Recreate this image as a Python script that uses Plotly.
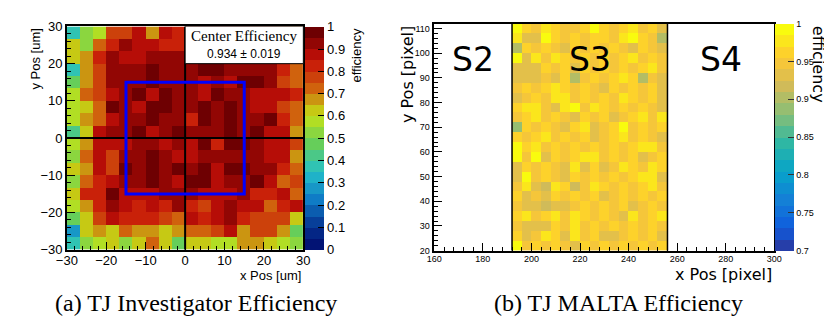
import numpy as np
import plotly.graph_objects as go

W, H = 832, 327

# ---------------- panel (a): TJ Investigator (rows listed top y=30 -> bottom y=-30) -------------
a_x_edges = np.linspace(-30, 30, 19)
a_y_edges = np.linspace(-30, 30, 19)
a_eff_top_to_bottom = [
    [0.37, 0.52, 0.58, 0.77, 0.77, 0.87, 0.68, 0.85, 0.80, 0.82, 0.85, 0.88, 0.88, 0.85, 0.82, 0.80, 0.78, 0.72],
    [0.60, 0.52, 0.72, 0.82, 0.92, 0.87, 0.87, 0.83, 0.83, 0.90, 0.92, 0.92, 0.90, 0.90, 0.88, 0.85, 0.82, 0.75],
    [0.60, 0.68, 0.82, 0.92, 0.87, 0.87, 0.92, 0.92, 0.92, 0.92, 0.95, 0.92, 0.92, 0.92, 0.90, 0.88, 0.82, 0.75],
    [0.37, 0.68, 0.78, 0.92, 0.92, 0.92, 0.97, 0.92, 0.92, 0.92, 0.97, 0.97, 0.92, 0.92, 0.92, 0.92, 0.82, 0.73],
    [0.47, 0.68, 0.78, 0.92, 0.92, 0.92, 0.96, 0.92, 0.92, 0.92, 0.87, 0.92, 0.87, 0.97, 0.97, 0.92, 0.78, 0.73],
    [0.55, 0.72, 0.78, 0.87, 0.92, 0.97, 0.87, 0.97, 0.92, 0.92, 0.87, 0.97, 0.92, 0.92, 0.87, 0.87, 0.87, 0.82],
    [0.58, 0.63, 0.72, 0.97, 0.92, 0.87, 0.97, 0.97, 0.92, 0.92, 0.97, 0.92, 0.97, 0.92, 0.87, 0.87, 0.78, 0.73],
    [0.55, 0.68, 0.73, 0.87, 0.92, 0.92, 0.97, 0.92, 0.92, 0.82, 0.97, 0.92, 0.97, 0.92, 0.92, 0.97, 0.82, 0.73],
    [0.42, 0.62, 0.87, 0.92, 0.92, 0.97, 0.87, 0.92, 0.97, 0.92, 0.92, 0.92, 0.97, 0.92, 0.97, 0.87, 0.87, 0.68],
    [0.58, 0.68, 0.87, 0.87, 0.87, 0.92, 0.92, 0.87, 0.92, 0.87, 0.97, 0.80, 0.97, 0.97, 0.92, 0.87, 0.87, 0.78],
    [0.52, 0.73, 0.87, 0.78, 0.92, 0.92, 0.96, 0.92, 0.87, 0.87, 0.92, 0.92, 0.92, 0.92, 0.92, 0.87, 0.87, 0.68],
    [0.60, 0.68, 0.87, 0.78, 0.97, 0.92, 0.97, 0.92, 0.97, 0.92, 0.97, 0.87, 0.97, 0.97, 0.92, 0.92, 0.82, 0.73],
    [0.52, 0.73, 0.82, 0.87, 0.92, 0.92, 0.97, 0.92, 0.87, 0.97, 0.97, 0.87, 0.92, 0.92, 0.97, 0.87, 0.73, 0.78],
    [0.63, 0.82, 0.82, 0.97, 0.87, 0.87, 0.87, 0.92, 0.92, 0.92, 0.87, 0.87, 0.87, 0.92, 0.82, 0.82, 0.87, 0.73],
    [0.58, 0.68, 0.82, 0.92, 0.87, 0.82, 0.87, 0.82, 0.92, 0.82, 0.78, 0.87, 0.92, 0.87, 0.87, 0.73, 0.82, 0.87],
    [0.45, 0.60, 0.75, 0.87, 0.82, 0.82, 0.82, 0.78, 0.73, 0.87, 0.82, 0.87, 0.92, 0.82, 0.78, 0.78, 0.78, 0.63],
    [0.27, 0.60, 0.68, 0.63, 0.73, 0.68, 0.68, 0.60, 0.68, 0.73, 0.73, 0.78, 0.87, 0.68, 0.78, 0.78, 0.68, 0.45],
    [0.37, 0.52, 0.55, 0.60, 0.52, 0.63, 0.73, 0.60, 0.45, 0.63, 0.60, 0.55, 0.55, 0.68, 0.68, 0.60, 0.55, 0.52],
]
a_center_text = "0.934 ± 0.019"
a_tickvals = [0, 0.1, 0.2, 0.3, 0.4, 0.5, 0.6, 0.7, 0.8, 0.9, 1.0]
a_ticktext = ["0", "0.1", "0.2", "0.3", "0.4", "0.5", "0.6", "0.7", "0.8", "0.9", "1"]

# ---------------- panel (b): TJ MALTA, sector S3 (rows listed top y=112 -> bottom y=20) ---------
b_x_edges = np.arange(192, 257, 4)
b_y_edges = np.arange(20, 113, 4)
b_eff_top_to_bottom = [
    [0.990, 0.962, 0.950, 0.977, 0.962, 0.950, 0.945, 0.962, 0.990, 0.962, 0.945, 0.962, 0.977, 0.950, 0.962, 0.932],
    [0.977, 0.932, 0.932, 0.990, 0.962, 0.950, 0.962, 0.950, 0.962, 0.962, 0.950, 0.977, 0.990, 0.962, 0.950, 0.900],
    [0.900, 0.962, 0.950, 0.962, 0.950, 0.932, 0.962, 0.950, 0.962, 0.950, 0.962, 0.950, 0.932, 0.962, 0.950, 0.932],
    [0.990, 0.932, 0.977, 0.950, 0.977, 0.962, 0.950, 0.962, 0.950, 0.962, 0.950, 0.962, 0.977, 0.950, 0.962, 0.945],
    [0.932, 0.932, 0.932, 0.962, 0.950, 0.962, 0.932, 0.962, 0.950, 0.962, 0.950, 0.962, 0.950, 0.962, 0.977, 0.950],
    [0.932, 0.932, 0.932, 0.950, 0.932, 0.962, 0.900, 0.950, 0.962, 0.950, 0.962, 0.977, 0.962, 0.900, 0.950, 0.932],
    [0.950, 0.962, 0.950, 0.962, 0.977, 0.962, 0.950, 0.962, 0.950, 0.932, 0.962, 0.950, 0.962, 0.950, 0.962, 0.932],
    [0.932, 0.950, 0.962, 0.950, 0.977, 0.977, 0.950, 0.962, 0.950, 0.962, 0.950, 0.977, 0.962, 0.950, 0.962, 0.932],
    [0.962, 0.977, 0.977, 0.950, 0.932, 0.977, 0.990, 0.950, 0.977, 0.962, 0.950, 0.962, 0.950, 0.962, 0.950, 0.932],
    [0.950, 0.962, 0.977, 0.950, 0.962, 0.950, 0.932, 0.962, 0.950, 0.962, 0.932, 0.950, 0.962, 0.977, 0.950, 0.977],
    [0.886, 0.962, 0.950, 0.962, 0.950, 0.932, 0.962, 0.977, 0.932, 0.950, 0.962, 0.990, 0.950, 0.962, 0.950, 0.962],
    [0.962, 0.950, 0.962, 0.977, 0.950, 0.962, 0.950, 0.962, 0.932, 0.950, 0.962, 0.977, 0.950, 0.962, 0.950, 0.932],
    [0.990, 0.962, 0.977, 0.950, 0.962, 0.950, 0.962, 0.950, 0.962, 0.950, 0.962, 0.950, 0.962, 0.977, 0.977, 0.950],
    [0.990, 0.950, 0.990, 0.932, 0.962, 0.950, 0.962, 0.977, 0.977, 0.950, 0.962, 0.950, 0.962, 0.932, 0.950, 0.962],
    [0.932, 0.962, 0.950, 0.962, 0.950, 0.932, 0.977, 0.932, 0.962, 0.932, 0.950, 0.977, 0.962, 0.950, 0.977, 0.962],
    [0.932, 0.990, 0.950, 0.962, 0.950, 0.932, 0.962, 0.950, 0.962, 0.950, 0.962, 0.950, 0.962, 0.977, 0.977, 0.932],
    [0.950, 0.977, 0.932, 0.918, 0.977, 0.962, 0.918, 0.950, 0.977, 0.962, 0.950, 0.962, 0.950, 0.962, 0.977, 0.950],
    [0.962, 0.932, 0.950, 0.932, 0.962, 0.950, 0.962, 0.950, 0.962, 0.932, 0.950, 0.962, 0.950, 0.962, 0.950, 0.962],
    [0.950, 0.932, 0.932, 0.918, 0.932, 0.932, 0.950, 0.962, 0.950, 0.962, 0.950, 0.962, 0.932, 0.950, 0.962, 0.950],
    [0.962, 0.977, 0.950, 0.962, 0.977, 0.950, 0.977, 0.962, 0.950, 0.962, 0.950, 0.932, 0.977, 0.950, 0.962, 0.977],
    [0.950, 0.932, 0.932, 0.932, 0.962, 0.950, 0.977, 0.950, 0.962, 0.950, 0.962, 0.950, 0.962, 0.950, 0.962, 0.950],
    [0.962, 0.932, 0.950, 0.977, 0.962, 0.932, 0.977, 0.950, 0.962, 0.932, 0.932, 0.950, 0.962, 0.950, 0.962, 0.932],
    [0.990, 0.950, 0.962, 0.950, 0.962, 0.950, 0.932, 0.962, 0.950, 0.962, 0.950, 0.962, 0.950, 0.962, 0.950, 0.962],
]
b_sector_labels = ["S2", "S3", "S4"]
b_sector_x = [176, 224, 278]
b_tickvals = [0.7, 0.75, 0.8, 0.85, 0.9, 0.95, 1.0]
b_ticktext = ["0.7", "0.75", "0.8", "0.85", "0.9", "0.95", "1"]

captions = ["(a) TJ Investigator Efficiency", "(b) TJ MALTA Efficiency"]

# ---------------- ROOT palettes (20 contour levels) ----------------
STOPS = [0.0, 0.125, 0.25, 0.375, 0.5, 0.625, 0.75, 0.875, 1.0]
RAINBOW = ([0, 5, 15, 35, 102, 196, 208, 199, 110],
           [0, 48, 124, 192, 206, 226, 97, 16, 0],
           [99, 142, 198, 201, 90, 22, 13, 8, 2])
BIRD = ([0.2082, 0.0592, 0.0780, 0.0232, 0.1802, 0.5301, 0.8186, 0.9956, 0.9764],
        [0.1664, 0.3599, 0.5041, 0.6419, 0.7178, 0.7492, 0.7328, 0.7862, 0.9832],
        [0.5293, 0.8684, 0.8385, 0.7914, 0.6425, 0.4662, 0.3499, 0.1968, 0.0539])


def stepped(pal, scale, n=20):
    cs = []
    for i in range(n):
        f = min((i + 0.99) / n, 1.0)
        rgb = [int(round(np.interp(f, STOPS, c) * scale)) for c in pal]
        col = "rgb(%d,%d,%d)" % tuple(rgb)
        cs.append([i / n, col])
        cs.append([(i + 1) / n, col])
    return cs


SANS = "Liberation Sans"
DEJ = "DejaVu Sans"
SERIF = "Liberation Serif"

# pixel geometry
A_L, A_R, A_T, A_B = 49, 291, 12, 246
B_L, B_R, B_T, B_B = 425, 773, 9, 247


def px(x):
    return x / W


def py(y):
    return 1 - y / H


fig = go.Figure()

fig.add_trace(go.Heatmap(
    z=a_eff_top_to_bottom[::-1], x=a_x_edges, y=a_y_edges,
    zmin=0, zmax=1, colorscale=stepped(RAINBOW, 1), xaxis="x", yaxis="y",
    colorbar=dict(x=px(293), xanchor="left", y=py(A_B), yanchor="bottom",
                  len=(A_B - A_T) / H, lenmode="fraction", thickness=19, thicknessmode="pixels",
                  outlinewidth=0, xpad=0, ypad=0, ticks="inside", ticklen=6, tickcolor="black",
                  tickvals=a_tickvals, ticktext=a_ticktext,
                  tickfont=dict(family=SANS, size=13, color="black")),
    hoverinfo="skip"))

fig.add_trace(go.Heatmap(
    z=b_eff_top_to_bottom[::-1], x=b_x_edges, y=b_y_edges,
    zmin=0.7, zmax=1, colorscale=stepped(BIRD, 255), xaxis="x2", yaxis="y2",
    colorbar=dict(x=px(774), xanchor="left", y=py(B_B), yanchor="bottom",
                  len=(B_B - B_T) / H, lenmode="fraction", thickness=19, thicknessmode="pixels",
                  outlinewidth=0, xpad=0, ypad=0, ticks="inside", ticklen=6, tickcolor="#333",
                  tickvals=b_tickvals, ticktext=b_ticktext,
                  tickfont=dict(family=SANS, size=9, color="black")),
    hoverinfo="skip"))

axis_common = dict(showgrid=False, zeroline=False, showline=True, linecolor="black",
                   linewidth=1.5, mirror=True, ticks="inside", tickcolor="black",
                   ticklen=8, tickwidth=1)

fig.update_layout(
    width=W, height=H, margin=dict(l=0, r=0, t=0, b=0),
    paper_bgcolor="white", plot_bgcolor="white", showlegend=False,
    xaxis=dict(domain=[px(A_L), px(A_R)], range=[-30, 30], anchor="y", dtick=10,
               ticklabelstandoff=-2,
               tickfont=dict(family=SANS, size=13, color="black"),
               minor=dict(dtick=2, ticks="inside", ticklen=4, tickcolor="black"), **axis_common),
    yaxis=dict(domain=[py(A_B), py(A_T)], range=[-30, 30], anchor="x", dtick=10,
               tickfont=dict(family=SANS, size=13, color="black"),
               minor=dict(dtick=2, ticks="inside", ticklen=4, tickcolor="black"), **axis_common),
    xaxis2=dict(domain=[px(B_L), px(B_R)], range=[160, 300], anchor="y2", dtick=20,
                ticklabelstandoff=-1,
                tickfont=dict(family=SANS, size=9, color="black"),
                minor=dict(dtick=4, ticks="inside", ticklen=4, tickcolor="black"), **axis_common),
    yaxis2=dict(domain=[py(B_B), py(B_T)], range=[20, 112], anchor="x2", tick0=20, dtick=10,
                ticklabelstandoff=1,
                tickfont=dict(family=SANS, size=9, color="black"),
                minor=dict(dtick=2, ticks="inside", ticklen=4, tickcolor="black"), **axis_common),
)

shapes = [
    dict(type="line", xref="x", yref="y", x0=0, x1=0, y0=-30, y1=30, line=dict(color="black", width=2)),
    dict(type="line", xref="x", yref="y", x0=-30, x1=30, y0=0, y1=0, line=dict(color="black", width=2)),
    dict(type="rect", xref="x", yref="y", x0=-15, x1=15, y0=-15, y1=15, line=dict(color="#0000ff", width=3)),
    dict(type="rect", xref="x", yref="y", x0=0, x1=30, y0=20, y1=30, fillcolor="white",
         line=dict(color="black", width=1)),
    dict(type="line", xref="x2", yref="y2", x0=192, x1=192, y0=20, y1=112, line=dict(color="black", width=1.5)),
    dict(type="line", xref="x2", yref="y2", x0=256, x1=256, y0=20, y1=112, line=dict(color="black", width=1.5)),
]
fig.update_layout(shapes=shapes)

ann = [
    dict(text="Center Efficiency", xref="x", yref="y", x=15, y=27.3, showarrow=False,
         font=dict(family=SERIF, size=15, color="black")),
    dict(text=a_center_text, xref="x", yref="y", x=15, y=22.6, showarrow=False,
         font=dict(family=SANS, size=12, color="black")),
    dict(text="x Pos [um]", xref="paper", yref="paper", x=px(A_R), y=py(273), xanchor="right",
         yanchor="middle", showarrow=False, font=dict(family=SANS, size=13, color="black")),
    dict(text="y Pos [um]", xref="paper", yref="paper", x=px(17), y=py(A_T), xanchor="center",
         yanchor="top", textangle=-90, showarrow=False, font=dict(family=SANS, size=13, color="black")),
    dict(text="efficiency", xref="paper", yref="paper", x=px(345), y=py(A_T), xanchor="center",
         yanchor="top", textangle=-90, showarrow=False, font=dict(family=SANS, size=13, color="black")),
    dict(text="x Pos [pixel]", xref="paper", yref="paper", x=px(B_R), y=py(272), xanchor="right",
         yanchor="middle", showarrow=False, font=dict(family=DEJ, size=16, color="black")),
    dict(text="y Pos [pixel]", xref="paper", yref="paper", x=px(397), y=py(B_T), xanchor="center",
         yanchor="top", textangle=-90, showarrow=False, font=dict(family=DEJ, size=16, color="black")),
    dict(text="efficiency", xref="paper", yref="paper", x=px(819), y=py(B_T), xanchor="center",
         yanchor="top", textangle=90, showarrow=False, font=dict(family=DEJ, size=16, color="black")),
    dict(text=captions[0], xref="paper", yref="paper", x=px(181), y=py(302), xanchor="center",
         yanchor="middle", showarrow=False, font=dict(family=SERIF, size=24, color="black")),
    dict(text=captions[1], xref="paper", yref="paper", x=px(614), y=py(302), xanchor="center",
         yanchor="middle", showarrow=False, font=dict(family=SERIF, size=24, color="black")),
]
for lab, xs in zip(b_sector_labels, b_sector_x):
    ann.append(dict(text=lab, xref="x2", yref="y2", x=xs, y=97.5, showarrow=False,
                    font=dict(family=DEJ, size=33, color="black")))
fig.update_layout(annotations=ann)

fig.write_html("out.html")
